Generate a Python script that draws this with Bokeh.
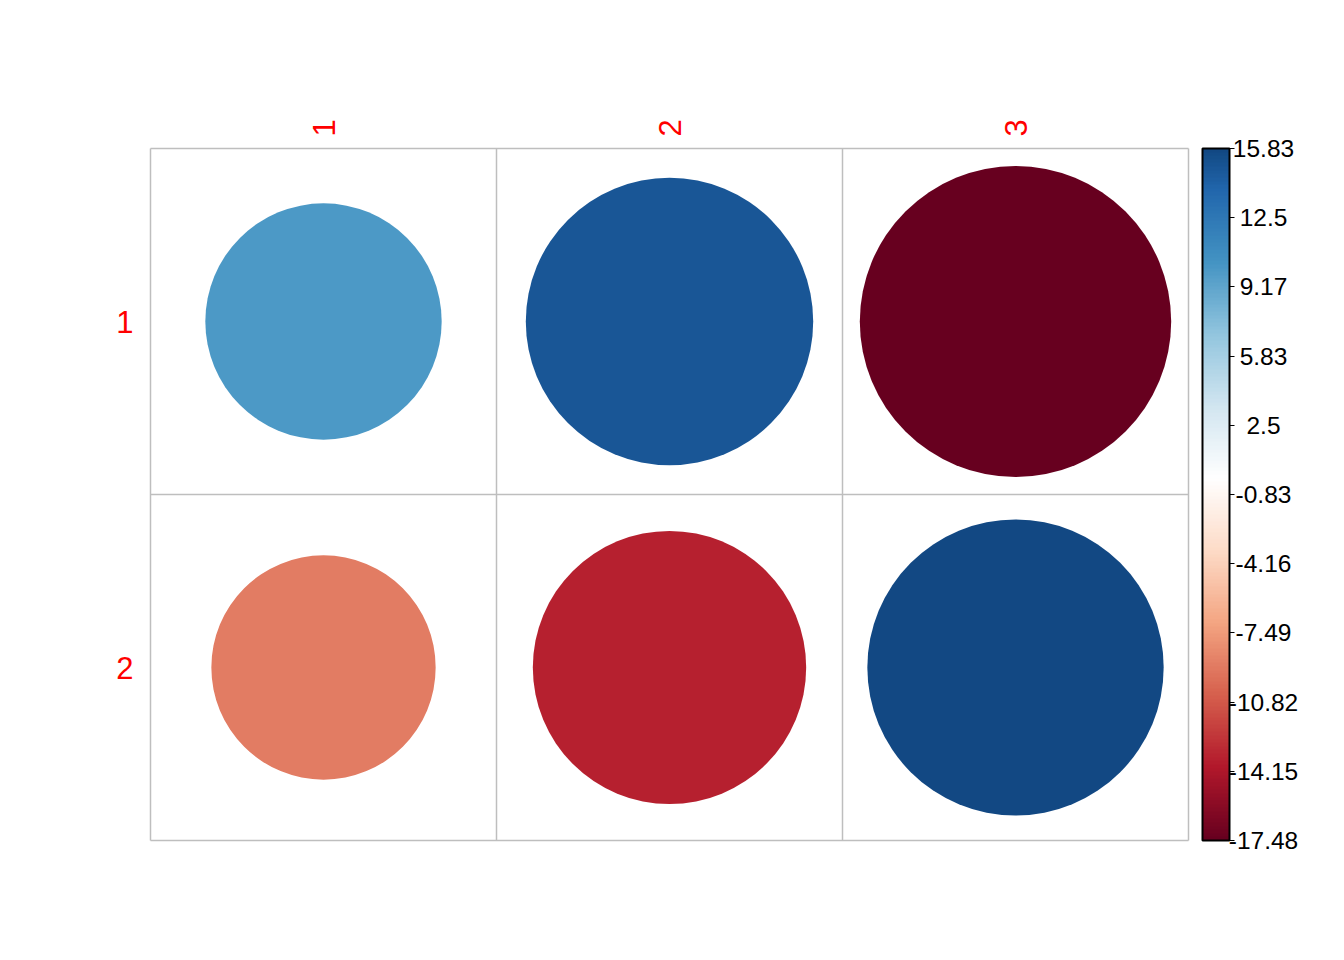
import numpy as np
from bokeh.plotting import figure
from bokeh.models import (ColumnDataSource, LinearColorMapper, ColorBar, FixedTicker,
                          Range1d)
from bokeh.core.properties import value
from bokeh.embed import file_html
from bokeh.resources import INLINE

# ---- data ----
row_labels = ["1", "2"]
col_labels = ["1", "2", "3"]
row1_values = [10.07, 14.89, -17.48]
row2_values = [-9.07, -13.47, 15.83]
cbar_ticks = [-17.48, -14.15, -10.82, -7.49, -4.16, -0.83, 2.5, 5.83, 9.17, 12.5, 15.83]
cbar_tick_labels = ["-17.48", "-14.15", "-10.82", "-7.49", "-4.16", "-0.83", "2.5", "5.83", "9.17", "12.5", "15.83"]

# ---- palette (corrplot RdBu) ----
anchors = ["#67001F", "#B2182B", "#D6604D", "#F4A582", "#FDDBC7", "#FFFFFF",
           "#D1E5F0", "#92C5DE", "#4393C3", "#2166AC", "#053061"]
def hex2rgb(h):
    return [int(h[i:i + 2], 16) for i in (1, 3, 5)]
arr = np.array([hex2rgb(a) for a in anchors], dtype=float)
n = 200
pos = np.linspace(0, 1, len(anchors))
t = np.linspace(0, 1, n)
full = ["#%02x%02x%02x" % tuple(int(round(np.interp(tt, pos, arr[:, k]))) for k in range(3)) for tt in t]

all_vals = row1_values + row2_values
vmax = max(abs(v) for v in all_vals)
vmin_data, vmax_data = min(all_vals), max(all_vals)
binw = 2 * vmax / n
keep_lo = int(np.floor((vmin_data + vmax) / binw))
keep_hi = int(np.ceil((vmax_data + vmax) / binw))
palette = full[keep_lo:keep_hi]
mapper = LinearColorMapper(palette=palette, low=vmin_data, high=vmax_data)

nrow, ncol = len(row_labels), len(col_labels)
cell = 346                      # px per cell
pad_l, pad_v = 10, 20           # extra frame space around the grid (px)
grid_left, grid_top = 150, 148
frame_w = 1334 - (grid_left - pad_l)
frame_h = cell * nrow + 2 * pad_v

# ---- cells ----
xs, ys, vals, rads = [], [], [], []
for ri, rowvals in enumerate([row1_values, row2_values]):
    for ci, v in enumerate(rowvals):
        xs.append(ci + 0.5)
        ys.append(ri + 0.5)
        vals.append(v)
        rads.append(0.45 * np.sqrt(abs(v) / vmax))
src = ColumnDataSource(dict(x=xs, y=ys, v=vals, r=rads))

x0 = -pad_l / cell
p = figure(frame_width=frame_w, frame_height=frame_h,
           x_range=Range1d(x0, x0 + frame_w / cell),
           y_range=Range1d(nrow + pad_v / cell, -pad_v / cell),
           x_axis_location="above", output_backend="svg", toolbar_location=None,
           min_border_left=grid_left - pad_l, min_border_top=grid_top - pad_v,
           min_border_bottom=960 - (grid_top - pad_v) - frame_h, min_border_right=0)
p.outline_line_color = None
p.background_fill_color = "white"
p.border_fill_color = "white"
p.xgrid.visible = False
p.ygrid.visible = False

# grid of cells
gx0 = [float(i) for i in range(ncol + 1)] + [0.0] * (nrow + 1)
gx1 = [float(i) for i in range(ncol + 1)] + [float(ncol)] * (nrow + 1)
gy0 = [0.0] * (ncol + 1) + [float(j) for j in range(nrow + 1)]
gy1 = [float(nrow)] * (ncol + 1) + [float(j) for j in range(nrow + 1)]
p.segment(x0=gx0, y0=gy0, x1=gx1, y1=gy1, line_color="#BEBEBE", line_width=1.5)

p.circle(x="x", y="y", radius="r", source=src,
         fill_color={"field": "v", "transform": mapper}, line_color=None)

for ax, labels in ((p.xaxis[0], col_labels), (p.yaxis[0], row_labels)):
    ax.ticker = FixedTicker(ticks=[i + 0.5 for i in range(len(labels))])
    ax.major_label_overrides = {i + 0.5: l for i, l in enumerate(labels)}
    ax.axis_line_color = None
    ax.major_tick_line_color = None
    ax.minor_tick_line_color = None
    ax.major_label_text_color = "red"
    ax.major_label_text_font = "Liberation Sans"
    ax.major_label_text_font_size = "31px"
p.xaxis[0].major_label_orientation = np.pi / 2
p.xaxis[0].major_label_standoff = 6 - pad_v
p.yaxis[0].major_label_standoff = 11 - pad_l

# colour bar (bar + ticks), labels drawn centred as text
cb = ColorBar(color_mapper=mapper, ticker=FixedTicker(ticks=cbar_ticks),
              major_label_overrides={v: "" for v in cbar_ticks},
              width=27, height=cell * nrow, margin=0, padding=0,
              location=(1202 - (grid_left - pad_l), pad_v),
              bar_line_color="black", bar_line_width=2,
              major_tick_line_color="black", major_tick_in=0, major_tick_out=5,
              minor_tick_line_color=None,
              major_label_text_font_size="1px",
              background_fill_color=None, border_line_color=None)
p.add_layout(cb, "center")

lab_y = [nrow * (vmax_data - v) / (vmax_data - vmin_data) for v in cbar_ticks]
lab_x = [(1263 - grid_left) / cell] * len(cbar_ticks)
p.text(x=lab_x, y=lab_y, text=cbar_tick_labels, text_align="center", text_baseline="middle",
       text_font=value("Liberation Sans"), text_font_size="24.5px", text_color="black")

open("out.html", "w").write(file_html(p, INLINE))
